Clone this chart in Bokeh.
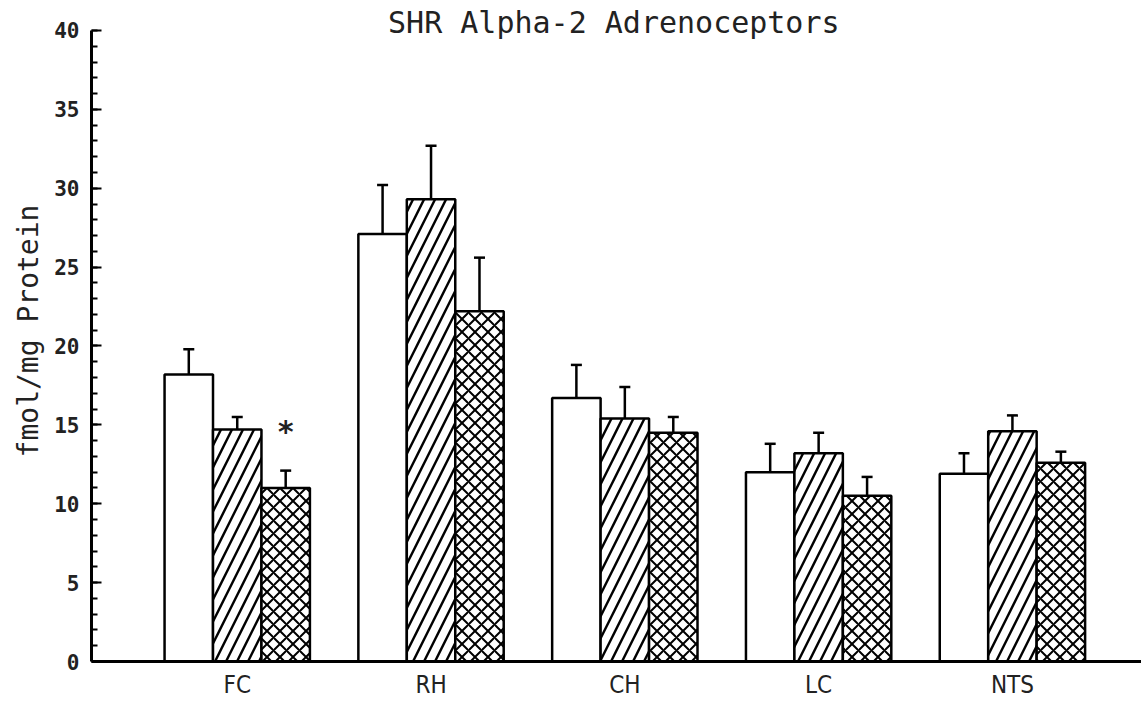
from bokeh.plotting import figure
from bokeh.models import (Range1d, FixedTicker, SingleIntervalTicker, Whisker,
                          ColumnDataSource, TeeHead, Label)
from bokeh.core.properties import value
from bokeh.embed import file_html
from bokeh.resources import INLINE

title = "SHR Alpha-2 Adrenoceptors"
y_label = "fmol/mg Protein"
regions = ["FC", "RH", "CH", "LC", "NTS"]
control = [18.2, 27.1, 16.7, 12.0, 11.9]
control_err = [1.6, 3.1, 2.1, 1.8, 1.3]
hatched = [14.7, 29.3, 15.4, 13.2, 14.6]
hatched_err = [0.8, 3.4, 2.0, 1.3, 1.0]
crossed = [11.0, 22.2, 14.5, 10.5, 12.6]
crossed_err = [1.1, 3.4, 1.0, 1.2, 0.7]
significance = ["*", "", "", "", ""]

MONO = "DejaVu Sans Mono"
BAR_W = 0.25

p = figure(width=1141, height=701, output_backend="svg", toolbar_location=None,
           x_range=Range1d(-0.752, 4.666), y_range=Range1d(0, 41.9),
           min_border_left=91, min_border_right=0, min_border_top=0,
           min_border_bottom=40)
p.outline_line_color = None
p.grid.visible = False
p.background_fill_color = "white"
p.border_fill_color = "white"

idx = list(range(len(regions)))
series = [
    (control, control_err, -BAR_W, None, 12, 1),
    (hatched, hatched_err, 0.0, "/", 22, 2.4),
    (crossed, crossed_err, BAR_W, "x", 13, 2.0),
]
for vals, errs, off, hatch, hscale, hweight in series:
    xs = [i + off for i in idx]
    src = ColumnDataSource(dict(x=xs, top=vals,
                                upper=[v + e for v, e in zip(vals, errs)]))
    kw = {}
    if hatch:
        kw = dict(hatch_pattern=hatch, hatch_color="black",
                  hatch_scale=hscale, hatch_weight=hweight)
    p.vbar(x="x", top="top", bottom=0, width=BAR_W, source=src,
           fill_color="white", line_color="black", line_width=2.5, **kw)
    w = Whisker(base="x", upper="upper", lower="top", source=src,
                dimension="height", line_color="black", line_width=2.5,
                upper_head=TeeHead(size=11, line_width=2.5, line_color="black"),
                lower_head=None)
    p.add_layout(w)

# significance marker above the third bar
sig_x = [i + BAR_W for i, s in zip(idx, significance) if s]
sig_y = [v + e + 2.5 for v, e, s in zip(crossed, crossed_err, significance) if s]
sig_t = [s for s in significance if s]
p.text(x=sig_x, y=sig_y, text=sig_t, text_align="center", text_baseline="middle",
       text_font=value(MONO), text_font_size="30px", text_font_style="bold",
       text_color="#222222")

p.add_layout(Label(x=1.943, y=40.5, text=title, text_align="center",
                   text_baseline="middle", text_font=MONO,
                   text_font_size="30px", text_color="#222222"))

# y axis
ya = p.yaxis[0]
ya.ticker = SingleIntervalTicker(interval=5, num_minor_ticks=5)
ya.bounds = (0, 40)
ya.axis_line_width = 3
ya.axis_line_color = "black"
ya.major_tick_in = 10
ya.major_tick_out = 0
ya.minor_tick_in = 6
ya.minor_tick_out = 0
ya.major_tick_line_width = 2
ya.minor_tick_line_width = 2
ya.major_label_text_font = MONO
ya.major_label_text_font_style = "bold"
ya.major_label_text_font_size = "21px"
ya.major_label_text_color = "#222222"
ya.major_label_standoff = 12
ya.axis_label = y_label
ya.axis_label_text_font = MONO
ya.axis_label_text_font_style = "normal"
ya.axis_label_text_font_size = "28px"
ya.axis_label_text_color = "#222222"
ya.axis_label_standoff = 6

# x axis
xa = p.xaxis[0]
xa.ticker = FixedTicker(ticks=idx)
xa.major_label_overrides = {i: r for i, r in zip(idx, regions)}
xa.axis_line_width = 3
xa.axis_line_color = "black"
xa.major_tick_line_color = None
xa.minor_tick_line_color = None
xa.major_tick_in = 0
xa.major_tick_out = 0
xa.major_label_standoff = 9
xa.major_label_text_font = "DejaVu Sans Condensed"
xa.major_label_text_font_size = "24px"
xa.major_label_text_color = "#222222"

open("out.html", "w").write(file_html(p, INLINE))
